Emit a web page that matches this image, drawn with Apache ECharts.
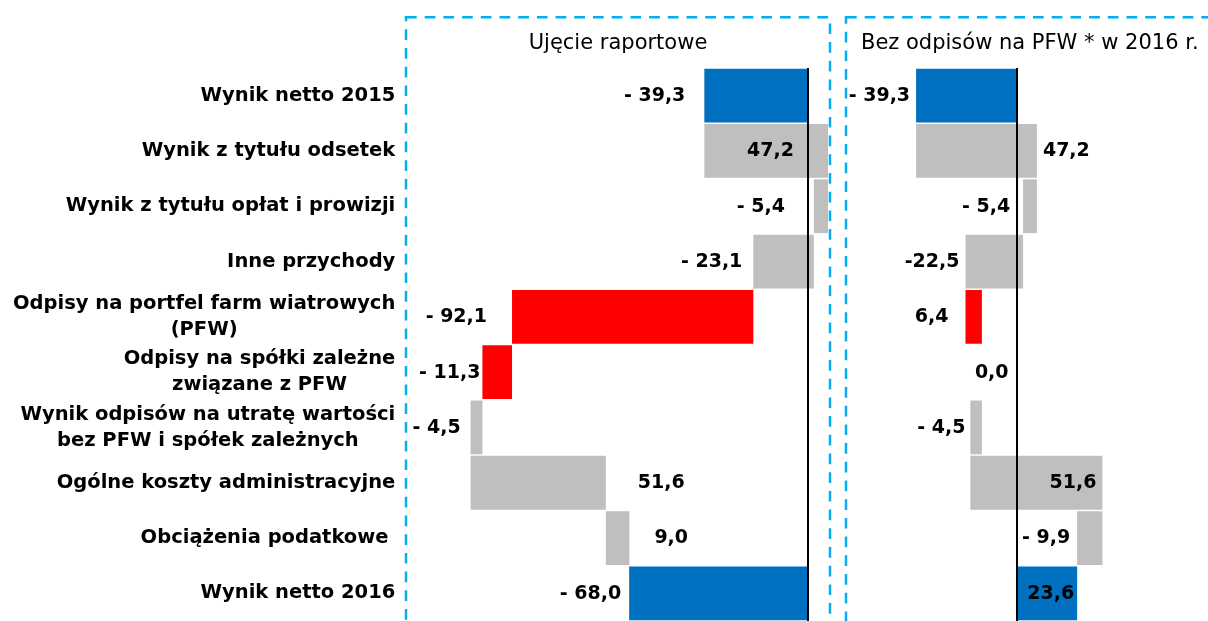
<!DOCTYPE html>
<html><head><meta charset="utf-8">
<script src="https://cdn.jsdelivr.net/npm/echarts@6/dist/echarts.min.js"></script>
<style>html,body{margin:0;padding:0;background:#fff}#c{width:1208px;height:621px}</style>
</head><body><div id="c"></div>
<script>
// ---- data ----
const categories = [
  "Wynik netto 2015",
  "Wynik z tytułu odsetek",
  "Wynik z tytułu opłat i prowizji",
  "Inne przychody",
  "Odpisy na portfel farm wiatrowych\n(PFW)",
  "Odpisy na spółki zależne\nzwiązane z PFW",
  "Wynik odpisów na utratę wartości\nbez PFW i spółek zależnych",
  "Ogólne koszty administracyjne",
  "Obciążenia podatkowe ",
  "Wynik netto 2016"
];
const rowKinds = ["total","delta","delta","delta","pfw","pfw","delta","delta","delta","total"];
const reportedValues = [-39.3, 47.2, -5.4, -23.1, -92.1, -11.3, -4.5, 51.6, 9.0, -68.0];
const adjustedValues = [-39.3, 47.2, -5.4, -22.5, 6.4, 0.0, -4.5, 51.6, -9.9, 23.6];
const panelTitles = ["Ujęcie raportowe", "Bez odpisów na PFW * w 2016 r."];
const adjustedLabelOverrides = { 3: "-22,5" };

// ---- label placement (style config) ----
const leftPlace = [['left',19],['insideRight',34],['left',29],['left',11],['left',25],['left',2],['left',10],['right',32],['right',25],['left',8]];
const rightPlace = [['left',6],['right',6],['left',13],['left',6],['left',17],['right',-7],['left',5],['insideRight',6],['left',7],['insideRight',3]];
const kindColor = {total:'#0070C0', pfw:'#FF0000', delta:'#BFBFBF'};
const LABEL_FONT = 'bold 19px "DejaVu Sans"';

function buildWaterfall(vals){
  let run = 0;
  return vals.map((v,i)=>{
    let s, e;
    if (rowKinds[i] === 'total') { s = 0; e = v; run = v; }
    else { s = run; e = run + v; run = e; }
    return [i, s, e, v];
  });
}
function fmt(v){
  const a = Math.abs(v).toFixed(1).replace('.', ',');
  return v < 0 ? '- ' + a : a;
}
function makeRender(place, overrides){
  return function(params, api){
    const i = api.value(0), s = api.value(1), e = api.value(2), v = api.value(3);
    const a = api.coord([s, i]), b = api.coord([e, i]);
    const band = api.size([0, 1])[1];
    const h = band - 1.5;
    const x0 = Math.min(a[0], b[0]), x1 = Math.max(a[0], b[0]);
    const yc = a[1];
    const pl = place[i];
    let tx, align;
    if (pl[0] === 'left') { tx = x0 - pl[1]; align = 'right'; }
    else if (pl[0] === 'right') { tx = x1 + pl[1]; align = 'left'; }
    else { tx = x1 - pl[1]; align = 'right'; }
    const txt = (overrides && overrides[i] != null) ? overrides[i] : fmt(v);
    return {
      type: 'group',
      children: [
        { type: 'rect', shape: { x: x0, y: yc - h/2, width: x1 - x0, height: h }, style: { fill: kindColor[rowKinds[i]] } },
        { type: 'text', x: tx, y: yc + 0.5, z2: 10, style: { text: txt, align: align, verticalAlign: 'middle', font: LABEL_FONT, fill: '#000' } }
      ]
    };
  };
}

const zeroLine = {
  silent: true, symbol: ['none','none'], label: { show: false },
  lineStyle: { color: '#000', width: 2, type: 'solid' },
  data: [{ xAxis: 0 }]
};

const chart = echarts.init(document.getElementById('c'), null, { renderer: 'canvas' });
const option = {
  animation: false,
  backgroundColor: '#fff',
  grid: [
    { left: 414.3, top: 68, width: 419.2, height: 556 },
    { left: 914.3, top: 68, width: 204.8, height: 556 }
  ],
  xAxis: [
    { type: 'value', gridIndex: 0, min: -150, max: 10, show: false },
    { type: 'value', gridIndex: 1, min: -40, max: 40, show: false }
  ],
  yAxis: [
    { type: 'category', gridIndex: 0, data: categories, inverse: true,
      axisLine: { show: false }, axisTick: { show: false }, splitLine: { show: false },
      axisLabel: {
        interval: 0, margin: 19,
        formatter: v => v.split('\n').map(l => '{c|' + l + '}').join('\n'),
        rich: { c: { align: 'center', fontFamily: 'DejaVu Sans', fontWeight: 'bold', fontSize: 19.5, color: '#000', lineHeight: 26 } }
      } },
    { type: 'category', gridIndex: 1, data: categories, inverse: true,
      axisLine: { show: false }, axisTick: { show: false }, axisLabel: { show: false }, splitLine: { show: false } }
  ],
  graphic: [
    { type: 'rect', z: 0, shape: { x: 406, y: 17.3, width: 424, height: 700 },
      style: { fill: 'none', stroke: '#00B0F0', lineWidth: 2.5, lineDash: [10.7, 8] } },
    { type: 'rect', z: 0, shape: { x: 846, y: 17.3, width: 500, height: 700 },
      style: { fill: 'none', stroke: '#00B0F0', lineWidth: 2.5, lineDash: [10.7, 8] } },
    { type: 'text', x: 618, y: 44, style: { text: panelTitles[0], font: '21px "DejaVu Sans"', fill: '#000', align: 'center', verticalAlign: 'middle' } },
    { type: 'text', x: 861, y: 44, style: { text: panelTitles[1], font: '21px "DejaVu Sans"', fill: '#000', align: 'left', verticalAlign: 'middle' } }
  ],
  series: [
    { type: 'custom', xAxisIndex: 0, yAxisIndex: 0, data: buildWaterfall(reportedValues),
      encode: { x: [1, 2], y: 0 }, renderItem: makeRender(leftPlace, null), markLine: zeroLine },
    { type: 'custom', xAxisIndex: 1, yAxisIndex: 1, data: buildWaterfall(adjustedValues),
      encode: { x: [1, 2], y: 0 }, renderItem: makeRender(rightPlace, adjustedLabelOverrides), markLine: zeroLine }
  ]
};
chart.setOption(option);
</script>
</body></html>
